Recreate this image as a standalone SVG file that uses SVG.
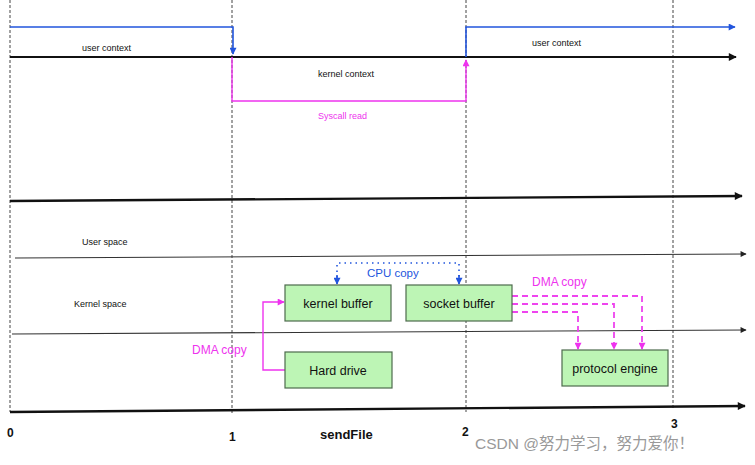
<svg xmlns="http://www.w3.org/2000/svg" width="755" height="465" viewBox="0 0 755 465">
<style>
text{font-family:"Liberation Sans",Arial,sans-serif;fill:#111}
.t9{font-size:9px}
.box rect{fill:#bdf5b5;stroke:#4d6b4d;stroke-width:1.2}
.box text{font-size:12.5px;text-anchor:middle}
.grid{stroke:#444;stroke-width:1;stroke-dasharray:3,2}
.mag{stroke:#ee33ee;fill:none;stroke-width:1.4}
.magd{stroke:#ee44ee;fill:none;stroke-width:1.8;stroke-dasharray:6,4}
.blu{stroke:#2255dd;fill:none;stroke-width:1.6}
.blud{stroke:#2255dd;fill:none;stroke-width:1.6;stroke-dasharray:1.5,4}
</style>
<defs>
<marker id="ab" viewBox="0 0 10 10" refX="9" refY="5" markerWidth="12" markerHeight="8" markerUnits="userSpaceOnUse" orient="auto"><path d="M0,0L10,5L0,10z" fill="#111"/></marker>
<marker id="abs" viewBox="0 0 10 10" refX="9" refY="5" markerWidth="8" markerHeight="6" markerUnits="userSpaceOnUse" orient="auto"><path d="M0,0L10,5L0,10z" fill="#222"/></marker>
<marker id="ablue" viewBox="0 0 10 10" refX="9" refY="5" markerWidth="9" markerHeight="7" markerUnits="userSpaceOnUse" orient="auto"><path d="M0,0L10,5L0,10z" fill="#2255dd"/></marker>
<marker id="amag" viewBox="0 0 10 10" refX="9" refY="5" markerWidth="9" markerHeight="7" markerUnits="userSpaceOnUse" orient="auto"><path d="M0,0L10,5L0,10z" fill="#ee33ee"/></marker>
</defs>
<rect width="755" height="465" fill="#fff"/>
<g id="gridlines">
<line class="grid" x1="10" y1="0" x2="10" y2="412"/>
<line class="grid" x1="232" y1="0" x2="232" y2="415"/>
<line class="grid" x1="466" y1="0" x2="466" y2="412"/>
<line class="grid" x1="673" y1="0" x2="673" y2="408"/>
</g>
<g id="connectors">
<line x1="10" y1="57" x2="736" y2="57" stroke="#111" stroke-width="2.2" marker-end="url(#ab)"/>
<line x1="10" y1="201" x2="742" y2="196" stroke="#111" stroke-width="2.4" marker-end="url(#ab)"/>
<line x1="15" y1="258" x2="746" y2="254" stroke="#333" stroke-width="1.1" marker-end="url(#abs)"/>
<line x1="12" y1="334" x2="746" y2="330" stroke="#333" stroke-width="1.1" marker-end="url(#abs)"/>
<line x1="10" y1="412" x2="745" y2="406" stroke="#111" stroke-width="2.4" marker-end="url(#ab)"/>
<polyline class="blu" points="10,27 233,27 233,54" marker-end="url(#ablue)"/>
<polyline class="blu" points="466,57 466,27 735,27" marker-end="url(#ablue)"/>
<polyline class="mag" points="232,57 232,101 466,101 466,60" marker-end="url(#amag)"/>
<polyline class="mag" points="285,370 263,370 263,302 284,302" marker-end="url(#amag)"/>
<polyline class="blud" points="337,283 337,263 459,263 459,283"/>
<line x1="337" y1="275" x2="337" y2="284" stroke="#2255dd" stroke-width="1.6" marker-end="url(#ablue)"/>
<line x1="459" y1="275" x2="459" y2="284" stroke="#2255dd" stroke-width="1.6" marker-end="url(#ablue)"/>
<polyline class="magd" points="512,296 642,296 642,349" marker-end="url(#amag)"/>
<polyline class="magd" points="512,304 614,304 614,349" marker-end="url(#amag)"/>
<polyline class="magd" points="512,312 578,312 578,349" marker-end="url(#amag)"/>
</g>
<g id="labels">
<text class="t9" x="82" y="51">user context</text>
<text class="t9" x="318" y="77">kernel context</text>
<text class="t9" x="318" y="119" style="fill:#ee33ee">Syscall read</text>
<text class="t9" x="532" y="46">user context</text>
<text class="t9" x="82" y="245">User space</text>
<text class="t9" x="74" y="307">Kernel  space</text>
<text x="367" y="277" style="font-size:11.5px;fill:#2255dd">CPU copy</text>
<text x="532" y="286" style="font-size:12px;fill:#ee33ee">DMA copy</text>
<text x="192" y="354" style="font-size:12px;fill:#ee33ee">DMA copy</text>
<text x="7" y="437" style="font-size:12px;font-weight:bold">0</text>
<text x="229" y="441" style="font-size:12px;font-weight:bold">1</text>
<text x="320" y="439" style="font-size:13px;font-weight:bold">sendFile</text>
<text x="462" y="436" style="font-size:12px;font-weight:bold">2</text>
<text x="671" y="428" style="font-size:12px;font-weight:bold">3</text>
<text x="475" y="449" style="font-size:15.5px;fill:#999;font-family:'Liberation Sans','Noto Sans CJK SC',sans-serif">CSDN @努力学习，努力爱你！</text>
</g>
<g id="kernel-buffer" class="box"><rect x="285" y="285" width="106" height="36"/><text x="338" y="308">kernel buffer</text></g>
<g id="socket-buffer" class="box"><rect x="406" y="285" width="106" height="36"/><text x="459" y="308">socket buffer</text></g>
<g id="hard-drive" class="box"><rect x="285" y="352" width="107" height="36"/><text x="338" y="375">Hard drive</text></g>
<g id="protocol-engine" class="box"><rect x="562" y="350" width="106" height="36"/><text x="615" y="373">protocol engine</text></g>
</svg>
